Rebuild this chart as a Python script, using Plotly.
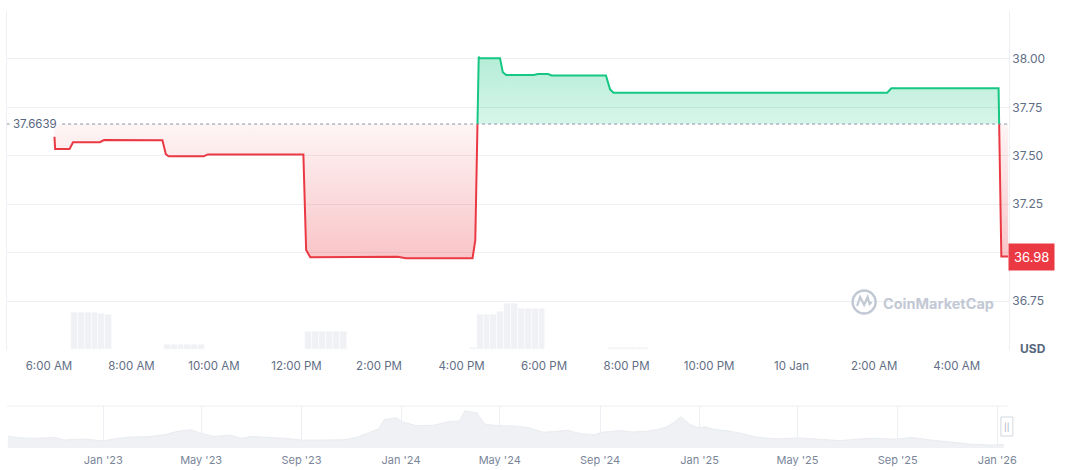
import plotly.graph_objects as go
import pandas as pd

# ---------------- data ----------------
price_times = [
    "2026-01-09 06:08", "2026-01-09 06:09", "2026-01-09 06:30", "2026-01-09 06:35",
    "2026-01-09 07:14", "2026-01-09 07:20", "2026-01-09 08:45", "2026-01-09 08:50",
    "2026-01-09 08:54", "2026-01-09 09:45", "2026-01-09 09:51", "2026-01-09 12:10",
    "2026-01-09 12:14", "2026-01-09 12:20", "2026-01-09 14:27", "2026-01-09 14:39",
    "2026-01-09 16:16", "2026-01-09 16:20", "2026-01-09 16:25", "2026-01-09 16:27",
    "2026-01-09 16:56", "2026-01-09 17:00", "2026-01-09 17:05", "2026-01-09 17:45",
    "2026-01-09 17:51", "2026-01-09 18:06", "2026-01-09 18:11", "2026-01-09 19:30",
    "2026-01-09 19:36", "2026-01-09 19:41", "2026-01-10 02:19", "2026-01-10 02:25",
    "2026-01-10 05:01", "2026-01-10 05:05", "2026-01-10 05:15",
]
price_values = [
    37.598, 37.535, 37.535, 37.570,
    37.570, 37.581, 37.580, 37.508,
    37.497, 37.497, 37.507, 37.506,
    37.014, 36.976, 36.979, 36.971,
    36.971, 37.065, 38.011, 38.003,
    38.003, 37.931, 37.917, 37.917,
    37.922, 37.922, 37.915, 37.915,
    37.843, 37.826, 37.826, 37.848,
    37.848, 36.980, 36.980,
]
baseline_price = 37.6639
last_price = 36.98

volume_times = [
    "2026-01-09 06:37", "2026-01-09 06:47", "2026-01-09 06:57", "2026-01-09 07:07", "2026-01-09 07:17", "2026-01-09 07:27",
    "2026-01-09 08:52", "2026-01-09 09:02", "2026-01-09 09:12", "2026-01-09 09:22", "2026-01-09 09:32", "2026-01-09 09:42",
    "2026-01-09 12:18", "2026-01-09 12:28", "2026-01-09 12:38", "2026-01-09 12:48", "2026-01-09 12:58", "2026-01-09 13:08",
    "2026-01-09 16:17", "2026-01-09 16:27", "2026-01-09 16:37", "2026-01-09 16:47", "2026-01-09 16:57", "2026-01-09 17:07",
    "2026-01-09 17:17", "2026-01-09 17:27", "2026-01-09 17:37", "2026-01-09 17:47", "2026-01-09 17:57",
    "2026-01-09 19:38", "2026-01-09 19:48", "2026-01-09 19:58", "2026-01-09 20:08", "2026-01-09 20:18", "2026-01-09 20:28",
]
volume_values = [
    37, 37, 37, 37, 36, 35,
    5, 5, 5, 5, 5, 5,
    18, 18, 18, 18, 18, 18,
    2, 35, 35, 35, 38, 46,
    46, 41, 41, 41, 41,
    2.5, 2.5, 2.5, 2.5, 2.5, 2.5,
]

nav_dates = [
    "2022-09-06", "2022-09-22", "2022-10-09", "2022-11-03", "2022-11-14", "2022-12-07",
    "2023-01-01", "2023-01-18", "2023-02-04", "2023-02-25", "2023-03-18", "2023-04-04",
    "2023-04-19", "2023-04-29", "2023-05-16", "2023-06-06", "2023-06-19", "2023-07-01",
    "2023-07-23", "2023-08-13", "2023-09-03", "2023-09-28", "2023-10-23", "2023-11-09",
    "2023-11-26", "2023-12-05", "2023-12-11", "2023-12-26", "2024-01-03", "2024-01-20",
    "2024-02-10", "2024-02-27", "2024-03-13", "2024-03-19", "2024-04-03", "2024-04-13",
    "2024-04-30", "2024-05-21", "2024-06-07", "2024-06-23", "2024-07-10", "2024-07-23",
    "2024-08-08", "2024-08-25", "2024-09-03", "2024-09-24", "2024-10-11", "2024-10-28",
    "2024-11-10", "2024-11-22", "2024-12-01", "2024-12-09", "2024-12-20", "2024-12-30",
    "2025-01-08", "2025-01-20", "2025-02-06", "2025-02-23", "2025-03-12", "2025-04-07",
    "2025-05-02", "2025-05-27", "2025-06-22", "2025-07-17", "2025-08-03", "2025-08-28",
    "2025-09-19", "2025-10-10", "2025-11-04", "2025-11-29", "2025-12-25", "2026-01-09",
]
nav_values = [
    11.6, 10.2, 9.6, 10.6, 8.0, 9.0,
    7.1, 9.6, 11.0, 11.3, 13.4, 17.1,
    18.2, 15.1, 11.6, 12.7, 9.6, 11.6,
    10.6, 9.6, 7.8, 7.8, 8.2, 11.0,
    16.4, 19.2, 28.2, 30.2, 26.1, 22.3,
    22.7, 26.1, 27.1, 37.1, 35.1, 23.7,
    22.3, 22.0, 20.0, 15.7, 16.7, 17.7,
    14.3, 13.2, 15.7, 17.4, 16.0, 16.7,
    18.4, 21.2, 26.0, 31.2, 23.6, 20.2,
    21.2, 18.4, 17.0, 14.3, 10.8, 9.1,
    10.1, 8.8, 7.4, 9.1, 9.8, 8.8,
    10.5, 8.1, 6.3, 3.9, 2.9, 3.6,
]

x_tickvals = [
    "2026-01-09 06:00", "2026-01-09 08:00", "2026-01-09 10:00", "2026-01-09 12:00",
    "2026-01-09 14:00", "2026-01-09 16:00", "2026-01-09 18:00", "2026-01-09 20:00",
    "2026-01-09 22:00", "2026-01-10 00:00", "2026-01-10 02:00", "2026-01-10 04:00",
]
x_ticktext = ["6:00 AM", "8:00 AM", "10:00 AM", "12:00 PM", "2:00 PM", "4:00 PM",
              "6:00 PM", "8:00 PM", "10:00 PM", "10 Jan", "2:00 AM", "4:00 AM"]
y_tickvals = [36.5, 36.75, 37.0, 37.25, 37.5, 37.75, 38.0, 38.25]
y_ticktext = ["", "36.75", "", "37.25", "37.50", "37.75", "38.00", ""]
nav_tickvals = ["2023-01-01", "2023-05-01", "2023-09-01", "2024-01-01", "2024-05-01",
                "2024-09-01", "2025-01-01", "2025-05-01", "2025-09-01", "2026-01-01"]
nav_ticktext = ["Jan '23", "May '23", "Sep '23", "Jan '24", "May '24",
                "Sep '24", "Jan '25", "May '25", "Sep '25", "Jan '26"]

# ---------------- layout helpers ----------------
W, H = 1072, 470
LAYOUT_W = 1061  # effective width the page lays the figure out at
def px(x):
    return x / LAYOUT_W
def py(y):
    return 1 - y / H

RED = "#ea3943"
GREEN = "#16c784"
GRID = "#eceff3"
LABEL = "#616e85"
FONT = "Inter, Roboto, sans-serif"

# split line at baseline crossings
t = pd.to_datetime(pd.Series(price_times))
xs, ys = [], []
for i in range(len(price_values)):
    if i > 0 and (price_values[i - 1] - baseline_price) * (price_values[i] - baseline_price) < 0:
        f = (baseline_price - price_values[i - 1]) / (price_values[i] - price_values[i - 1])
        xs.append(t[i - 1] + (t[i] - t[i - 1]) * f)
        ys.append(baseline_price)
    xs.append(t[i])
    ys.append(price_values[i])

red_line = [v if v <= baseline_price else None for v in ys]
green_line = [v if v >= baseline_price else None for v in ys]
red_fill = [min(v, baseline_price) for v in ys]
green_fill = [max(v, baseline_price) for v in ys]
base_arr = [baseline_price] * len(ys)

fig = go.Figure()

# volume bars (overlay axis)
fig.add_trace(go.Bar(
    x=pd.to_datetime(pd.Series(volume_times)), y=volume_values, width=600000,
    marker=dict(color="#eff1f4", line=dict(color="rgba(255,255,255,0.8)", width=0.6)),
    xaxis="x", yaxis="y2", hoverinfo="skip", showlegend=False,
))

# red fill
fig.add_trace(go.Scatter(x=xs, y=base_arr, mode="lines", line=dict(width=0),
                         hoverinfo="skip", showlegend=False, xaxis="x", yaxis="y"))
fig.add_trace(go.Scatter(
    x=xs, y=red_fill, mode="lines", line=dict(width=0), fill="tonexty",
    fillgradient=dict(type="vertical",
                      colorscale=[[0, "rgba(234,57,67,0.30)"], [1, "rgba(234,57,67,0.05)"]],
                      start=36.96, stop=baseline_price),
    hoverinfo="skip", showlegend=False, xaxis="x", yaxis="y"))
# green fill
fig.add_trace(go.Scatter(x=xs, y=base_arr, mode="lines", line=dict(width=0),
                         hoverinfo="skip", showlegend=False, xaxis="x", yaxis="y"))
fig.add_trace(go.Scatter(
    x=xs, y=green_fill, mode="lines", line=dict(width=0), fill="tonexty",
    fillgradient=dict(type="vertical",
                      colorscale=[[0, "rgba(22,199,132,0.17)"], [1, "rgba(22,199,132,0.32)"]],
                      start=baseline_price, stop=38.01),
    hoverinfo="skip", showlegend=False, xaxis="x", yaxis="y"))

# lines
fig.add_trace(go.Scatter(x=xs, y=red_line, mode="lines", line=dict(color=RED, width=2),
                         connectgaps=False, hoverinfo="skip", showlegend=False, xaxis="x", yaxis="y"))
fig.add_trace(go.Scatter(x=xs, y=green_line, mode="lines", line=dict(color=GREEN, width=2),
                         connectgaps=False, hoverinfo="skip", showlegend=False, xaxis="x", yaxis="y"))

# navigator
fig.add_trace(go.Scatter(
    x=pd.to_datetime(pd.Series(nav_dates)), y=nav_values, mode="lines",
    line=dict(color="#e9ecf0", width=1), fill="tozeroy", fillcolor="#eff1f4",
    hoverinfo="skip", showlegend=False, xaxis="x2", yaxis="y3"))

main_dom_y = [py(349.5), py(10.5)]
nav_dom_y = [py(448), py(406)]

fig.update_layout(
    width=W, height=H, autosize=False,
    margin=dict(l=0, r=0, t=0, b=0),
    paper_bgcolor="white", plot_bgcolor="white",
    font=dict(family=FONT, color=LABEL, size=12),
    showlegend=False, bargap=0,
    xaxis=dict(
        domain=[px(7), px(1007)], type="date",
        range=["2026-01-09 04:59", "2026-01-10 05:16"],
        tickvals=x_tickvals, ticktext=x_ticktext,
        showgrid=False, zeroline=False, showline=False,
        ticks="outside", ticklen=6, tickcolor="rgba(0,0,0,0)",
        tickfont=dict(size=11.5, color=LABEL), anchor="y",
    ),
    yaxis=dict(
        domain=main_dom_y, range=[36.5, 38.25], side="right",
        tickvals=y_tickvals, ticktext=y_ticktext,
        showgrid=True, gridcolor=GRID, gridwidth=1, zeroline=False,
        showline=True, mirror=True, linecolor=GRID, linewidth=1,
        ticks="",
        tickfont=dict(size=12, color=LABEL), anchor="x",
    ),
    yaxis2=dict(
        overlaying="y", range=[0, 339], visible=False, showgrid=False, anchor="x",
    ),
    xaxis2=dict(
        domain=[px(7), px(1006)], type="date",
        range=["2022-09-05", "2026-01-14"],
        tickvals=nav_tickvals, ticktext=nav_ticktext,
        showgrid=True, gridcolor=GRID, gridwidth=1, zeroline=False, showline=False,
        ticks="outside", ticklen=2, tickcolor="rgba(0,0,0,0)",
        tickfont=dict(size=11, color="#7a8599"), anchor="y3",
    ),
    yaxis3=dict(
        domain=nav_dom_y, range=[0, 42], showgrid=False, zeroline=False,
        showticklabels=False, showline=False, anchor="x2",
    ),
)

shapes = [
    # dotted reference line at open price
    dict(type="line", xref="paper", yref="y", x0=px(62), x1=px(1007),
         y0=baseline_price, y1=baseline_price,
         line=dict(color="#8a93a5", width=1, dash="dot")),
    dict(type="line", xref="paper", yref="y", x0=px(7), x1=px(9.5),
         y0=baseline_price, y1=baseline_price, line=dict(color="#8a93a5", width=1)),
    # navigator top border
    dict(type="line", xref="paper", yref="paper", x0=px(7), x1=px(1006),
         y0=py(406), y1=py(406), line=dict(color=GRID, width=1)),
    # navigator handle
    dict(type="rect", xref="paper", yref="paper", x0=px(999), x1=px(1011),
         y0=py(436), y1=py(417), fillcolor="white",
         line=dict(color="#d3d8df", width=1)),
    # watermark logo circle
    dict(type="circle", xref="paper", yref="paper", x0=px(851), x1=px(874),
         y0=py(313.5), y1=py(290.5), line=dict(color="#c3c9d4", width=2.4)),
    dict(type="path", xref="paper", yref="paper",
         path=(f"M {px(855.5)} {py(306)} L {px(858.5)} {py(297)} L {px(862.5)} {py(305)} "
               f"L {px(866)} {py(297)} L {px(868)} {py(304)} L {px(870)} {py(302)}"),
         line=dict(color="#c3c9d4", width=2.2)),
]
fig.update_layout(shapes=shapes)

annotations = [
    dict(xref="paper", yref="y", x=px(11), y=baseline_price, xanchor="left", yanchor="middle",
         text="37.6639", showarrow=False, font=dict(size=11.5, color="#58667e")),
    dict(xref="paper", yref="y", x=px(1006), y=last_price, xanchor="left", yanchor="middle",
         text="36.98", showarrow=False, bgcolor=RED, borderpad=5,
         font=dict(size=13, color="white")),
    dict(xref="paper", yref="paper", x=px(1031), y=py(348), xanchor="center", yanchor="middle",
         text="<b>USD</b>", showarrow=False, font=dict(size=12, color="#58667e")),
    dict(xref="paper", yref="paper", x=px(879), y=py(303), xanchor="left", yanchor="middle",
         text="<b>CoinMarketCap</b>", showarrow=False,
         font=dict(size=14.5, color="#c3c9d4")),
    dict(xref="paper", yref="paper", x=px(1005), y=py(426.5), xanchor="center", yanchor="middle",
         text="||", showarrow=False, font=dict(size=8, color="#9aa2b1")),
]
fig.update_layout(annotations=annotations)

post_js = """
document.documentElement.style.margin='0';
document.documentElement.style.padding='0';
document.documentElement.style.overflow='hidden';
document.body.style.margin='0';
document.body.style.padding='0';
document.body.style.overflow='hidden';
"""

fig.write_html(
    "out.html",
    config={"responsive": False, "displayModeBar": False},
    default_width="1072px", default_height="470px",
    post_script=post_js,
)
